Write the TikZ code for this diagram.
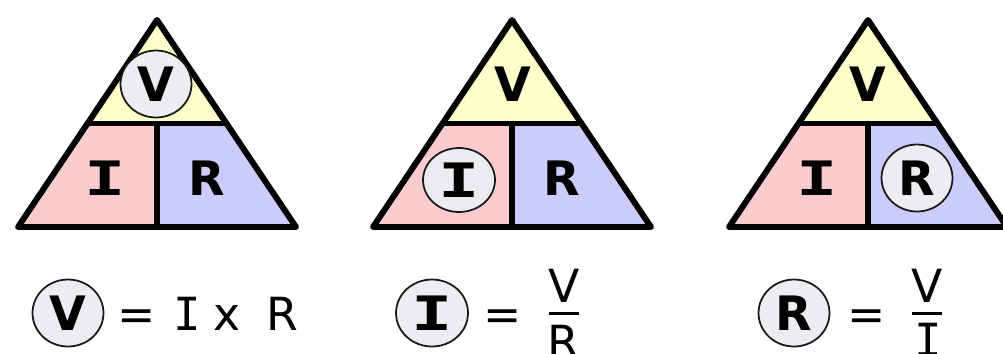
\documentclass[tikz,border=0pt]{standalone}
\usepackage{fontspec}
\usepackage{graphicx}
\setmainfont{DejaVu Sans}
\newfontfamily\slabfont{DejaVu Sans Mono}
\usetikzlibrary{calc,shapes.geometric}

\definecolor{voltfill}{RGB}{255,255,204}
\definecolor{ampfill}{RGB}{250,204,206}
\definecolor{ohmfill}{RGB}{204,204,250}
\definecolor{ringfill}{RGB}{236,236,242}

\begin{document}
\begin{tikzpicture}[
  x=0.02cm, y=-0.02cm,
  edge/.style={line width=3.4pt, line join=round, draw=black},
  big/.style={inner sep=0pt, font=\fontsize{27}{27}\selectfont\bfseries},
  ring/.style={ellipse, draw=black!90, line width=1pt, fill=ringfill,
    inner sep=0pt, minimum width=1.42cm, minimum height=1.34cm},
  term/.style={inner sep=0pt, font=\fontsize{26}{26}\selectfont},
  bar/.style={line width=1.7pt, draw=black}
]
\useasboundingbox (0,0) rectangle (1003,353);
\clip (0,0) rectangle (1003,353);
\fill[white] (0,0) rectangle (1003,353);

% triangle 1: V circled
\fill[voltfill] (157,20) -- (87.5,123.5) -- (226.5,123.5) -- cycle;
\fill[ampfill] (87.5,123.5) -- (18,227) -- (157,227) -- (157,123.5) -- cycle;
\fill[ohmfill] (157,123.5) -- (157,227) -- (296,227) -- (226.5,123.5) -- cycle;
\draw[edge] (157,20) -- (18,227) -- (296,227) -- cycle;
\draw[edge] (87.5,123.5) -- (226.5,123.5);
\draw[edge] (157,123.5) -- (157,227);

\node[ring, big] (vA) at (156,84) {V};
\node[big] (iA) at (105,178) {\slabfont\scalebox{1.45}[1]{I}};
\node[big] (rA) at (207,178) {R};

% triangle 2: I circled
\fill[voltfill] (512,20) -- (442.5,123.5) -- (581.5,123.5) -- cycle;
\fill[ampfill] (442.5,123.5) -- (373,227) -- (512,227) -- (512,123.5) -- cycle;
\fill[ohmfill] (512,123.5) -- (512,227) -- (651,227) -- (581.5,123.5) -- cycle;
\draw[edge] (512,20) -- (373,227) -- (651,227) -- cycle;
\draw[edge] (442.5,123.5) -- (581.5,123.5);
\draw[edge] (512,123.5) -- (512,227);

\node[big] (vB) at (513,84) {V};
\node[ring, big, minimum width=1.44cm, minimum height=1.28cm] (iB) at (459,180)
  {\slabfont\scalebox{1.45}[1]{I}};
\node[big] (rB) at (562,178) {R};

% triangle 3: R circled
\fill[voltfill] (868,20) -- (798.5,123.5) -- (937.5,123.5) -- cycle;
\fill[ampfill] (798.5,123.5) -- (729,227) -- (868,227) -- (868,123.5) -- cycle;
\fill[ohmfill] (868,123.5) -- (868,227) -- (1007,227) -- (937.5,123.5) -- cycle;
\draw[edge] (868,20) -- (729,227) -- (1007,227) -- cycle;
\draw[edge] (798.5,123.5) -- (937.5,123.5);
\draw[edge] (868,123.5) -- (868,227);

\node[big] (vC) at (868,84) {V};
\node[big] (iC) at (817,178) {\slabfont\scalebox{1.45}[1]{I}};
\node[ring, big] (rC) at (917,178) {R};

% V = I x R
\node[ring, big] (fvA) at (68,313) {V};
\node[term, anchor=base] (eqA) at (137,330) {=};
\node[term, anchor=base] (fiA) at (187,330) {\slabfont I};
\node[term, anchor=base] (times) at (227,330) {x};
\node[term, anchor=base] (frA) at (282,330) {R};

% I = V / R
\node[ring, big, minimum width=1.44cm] (fiB) at (432,313)
  {\slabfont\scalebox{1.45}[1]{I}};
\node[term, anchor=base] (eqB) at (503,330) {=};
\node[term, anchor=base] (numB) at (564,302) {V};
\node[term, anchor=north] (denB) at (563,325) {R};
\draw[bar] ($(numB.base west)+(1,11)$) -- ($(numB.base east)+(-1,11)$);

% R = V / I
\node[ring, big] (frC) at (794,313) {R};
\node[term, anchor=base] (eqC) at (867,330) {=};
\node[term, anchor=base] (numC) at (927,302) {V};
\node[term, anchor=north] (denC) at (928,323) {\slabfont I};
\draw[bar] ($(numC.base west)+(1,11)$) -- ($(numC.base east)+(-1,11)$);
\end{tikzpicture}
\end{document}
